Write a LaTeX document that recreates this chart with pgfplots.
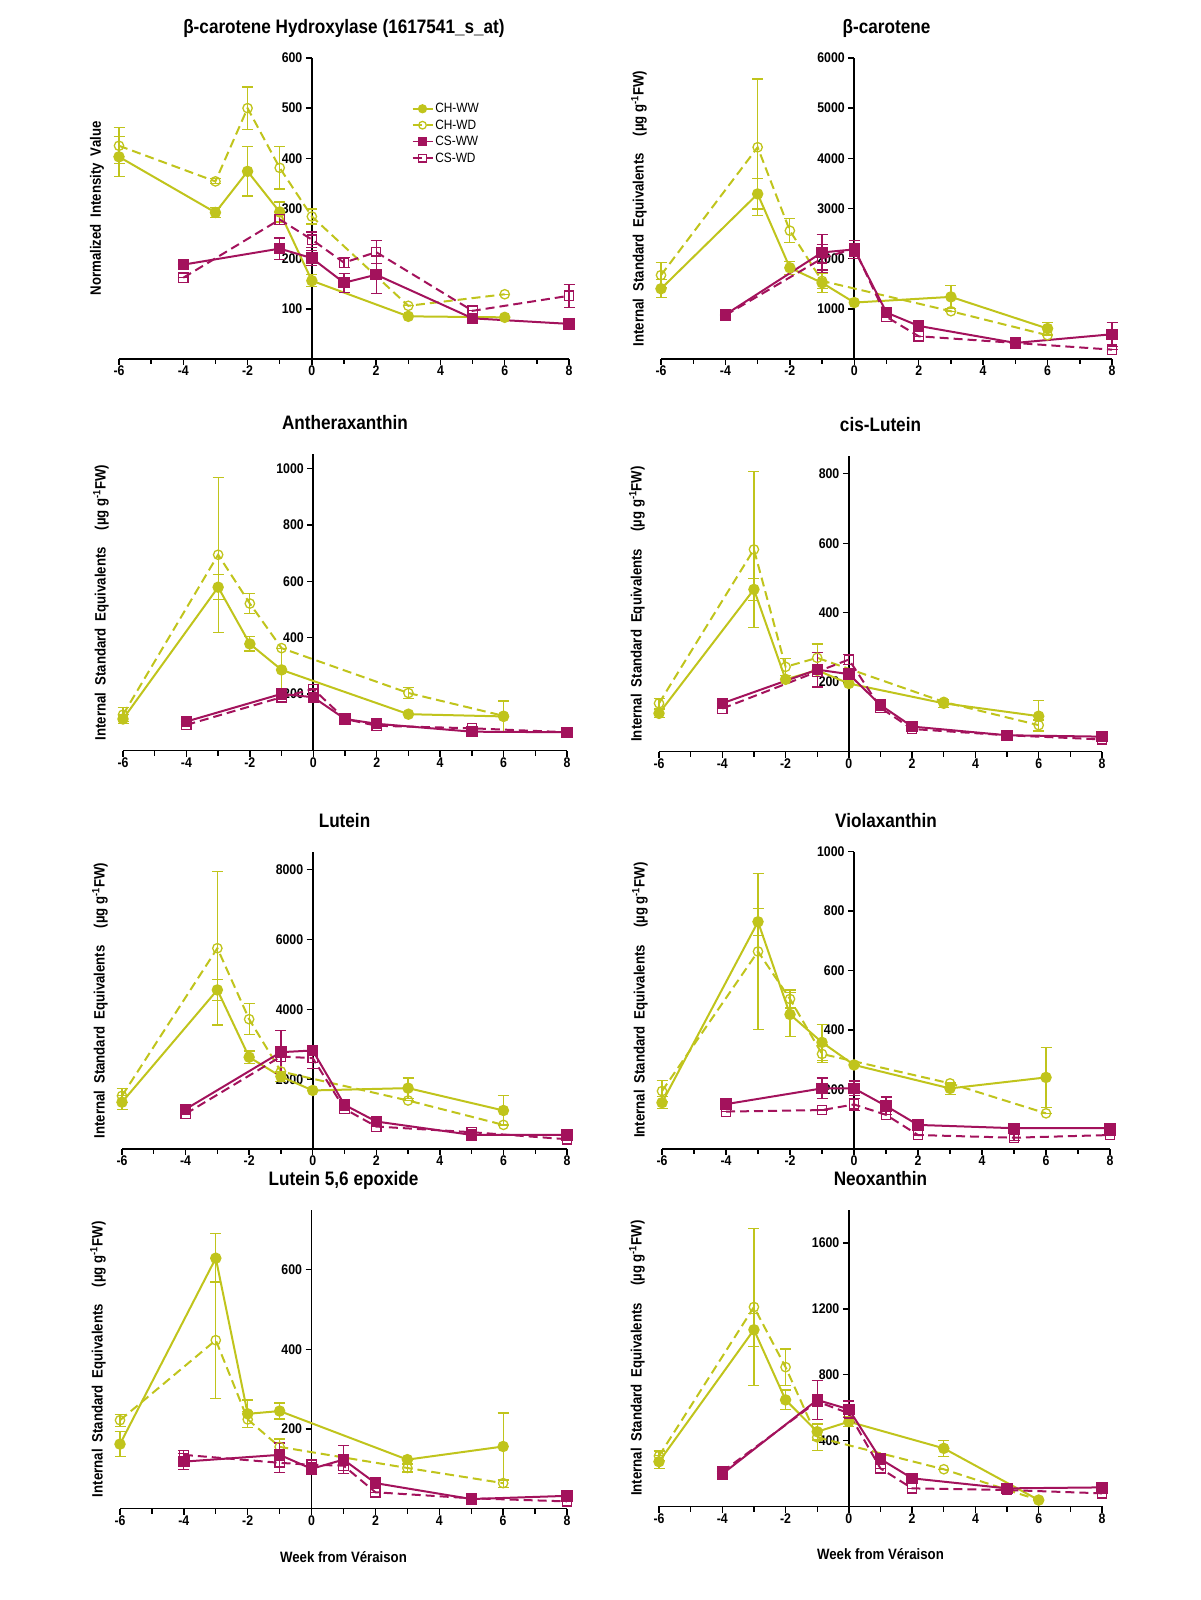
\documentclass[border=0pt]{standalone}
\usepackage{pgfplots}
\pgfplotsset{compat=1.18}
\usepackage{fontspec}
\setmainfont{Liberation Sans}[FakeStretch=0.88]
\definecolor{CY}{RGB}{192,196,28}
\definecolor{CM}{RGB}{163,18,92}
\newcommand\tk{\fontsize{14}{16}\selectfont\bfseries}
\newcommand\ttl{\fontsize{19.5}{22}\selectfont\bfseries}
\newcommand\lab{\fontsize{15}{18}\selectfont\bfseries}
\newcommand\ISE{Internal\hspace{7pt}Standard\hspace{7pt}Equivalents\hspace{17pt}(µg g\textsuperscript{-1}FW)}
\pgfplotsset{
  panel/.style={
    scale only axis, anchor=south west, clip=false,
    xmin=-6, xmax=8, ymin=0,
    axis x line=bottom, axis y line=middle,
    axis line style={-, line width=1.8pt, black},
    hide obscured x ticks=false, hide obscured y ticks=false,
    xtick={-6,-4,-2,0,2,4,6,8}, xticklabels={-6,-4,-2,0,2,4,6,8},
    minor xtick={-5,-3,-1,1,3,5,7},
    tick align=outside, major tick length=6pt, minor tick length=5pt,
    every tick/.append style={black, line width=1.4pt},
    tick label style={font=\tk},
    xticklabel style={yshift=2.5pt},
    /pgf/number format/assume math mode=true, /pgf/number format/1000 sep={},
    every axis title/.style={at={(0.5,1)}, anchor=base, yshift=24.5pt, font=\ttl},
    every axis y label/.style={at={(rel axis cs:0,0.5)}, xshift=-22pt, rotate=90, anchor=center, font=\lab},
    every axis x label/.style={at={(rel axis cs:0.5,0)}, yshift=-48pt, anchor=center, font=\lab},
    ylabel={\ISE},
    error bars/y dir=both, error bars/y explicit,
    error bars/error bar style={line width=1.2pt, solid},
    error bars/error mark options={rotate=90, mark size=5.5pt, line width=1.2pt, solid},
  },
  chww/.style={CY, line width=2pt, solid, mark=*, mark size=4.7pt, mark options={solid}},
  chwd/.style={CY, line width=2pt, dash pattern=on 9pt off 5pt, mark=o, mark size=4.7pt, mark options={solid, fill=white, line width=1.3pt}},
  csww/.style={CM, line width=2pt, solid, mark=square*, mark size=4.7pt, mark options={solid}},
  cswd/.style={CM, line width=2pt, dash pattern=on 9pt off 5pt, mark=square, mark size=4.7pt, mark options={solid, fill=white, line width=1.3pt}},
}
\begin{document}
\begin{tikzpicture}
\path[use as bounding box] (0pt,0pt) rectangle (1200pt,1600pt);

% Panel 1
\begin{axis}[panel, at={(119pt,1241pt)}, width=450pt, height=301pt, ymax=600,
  ytick={100,200,300,400,500,600},
  title={β-carotene Hydroxylase (1617541\_s\_at)},
  ylabel={Normalized\hspace{7pt}Intensity\hspace{7pt}Value},
  legend style={at={(axis cs:3.1,514)}, anchor=north west, draw=none, fill=none,
    font=\fontsize{13.5}{15}\selectfont, row sep=1.5pt, inner sep=0pt},
  legend cell align=left,
  legend image code/.code={\draw[mark repeat=2,mark phase=2,#1] plot coordinates {(0pt,0pt) (10pt,0pt) (20pt,0pt)};},
  legend image post style={mark size=3.8pt, line width=1.6pt}]
\addplot[chww] coordinates {(-6,403) +- (0,40) (-3,292) +- (0,10) (-2,374) +- (0,49) (-1,293) +- (0,20) (0,156) +- (0,12) (3,85) +- (0,0) (6,83) +- (0,0)};
\addplot[chwd] coordinates {(-6,425) +- (0,36) (-3,354) +- (0,5) (-2,500) +- (0,42) (-1,381) +- (0,42) (0,284) +- (0,15) (3,106) +- (0,0) (6,129) +- (0,0)};
\addplot[csww] coordinates {(-4,188) +- (0,0) (-1,220) +- (0,21) (0,201) +- (0,15) (1,152) +- (0,19) (2,168) +- (0,38) (5,81) +- (0,0) (8,70) +- (0,0)};
\addplot[cswd] coordinates {(-4,162) +- (0,0) (-1,278) +- (0,10) (0,238) +- (0,15) (1,192) +- (0,10) (2,213) +- (0,23) (5,96) +- (0,0) (8,126) +- (0,23)};
\legend{CH-WW,CH-WD,CS-WW,CS-WD}
\end{axis}

% Panel 2
\begin{axis}[panel, at={(661pt,1241pt)}, width=451pt, height=301pt, ymax=6000,
  ytick={1000,2000,3000,4000,5000,6000},
  title={β-carotene}]
\addplot[chww] coordinates {(-6,1400) +- (0,180) (-3,3290) +- (0,300) (-2,1818) +- (0,130) (-1,1518) +- (0,200) (0,1125) +- (0,0) (3,1238) +- (0,230) (6,606) +- (0,120)};
\addplot[chwd] coordinates {(-6,1671) +- (0,250) (-3,4221) +- (0,1360) (-2,2557) +- (0,240) (-1,1556) +- (0,150) (3,952) +- (0,0) (6,473) +- (0,0)};
\addplot[csww] coordinates {(-4,885) +- (0,0) (-1,2124) +- (0,350) (0,2184) +- (0,180) (1,925) +- (0,80) (2,659) +- (0,100) (5,320) +- (0,0) (8,493) +- (0,240)};
\addplot[cswd] coordinates {(-4,872) +- (0,0) (-1,2004) +- (0,280) (0,2204) +- (0,150) (1,839) +- (0,0) (2,453) +- (0,0) (5,320) +- (0,0) (8,186) +- (0,0)};
\end{axis}

% Panel 3
\begin{axis}[panel, at={(123pt,849.4pt)}, width=444pt, height=296.3pt, ymax=1050,
  ytick={200,400,600,800,1000},
  title={Antheraxanthin}]
\addplot[chww] coordinates {(-6,112) +- (0,15) (-3,579) +- (0,45) (-2,378) +- (0,25) (-1,286) +- (0,75) (3,129) +- (0,0) (6,121) +- (0,55)};
\addplot[chwd] coordinates {(-6,127) +- (0,25) (-3,694) +- (0,275) (-2,521) +- (0,35) (-1,363) +- (0,0) (3,204) +- (0,20) (6,123) +- (0,0)};
\addplot[csww] coordinates {(-4,103) +- (0,0) (-1,201) +- (0,0) (0,189) +- (0,0) (1,112) +- (0,0) (2,95) +- (0,0) (5,67) +- (0,0) (8,65) +- (0,0)};
\addplot[cswd] coordinates {(-4,91) +- (0,0) (-1,189) +- (0,0) (0,218) +- (0,0) (1,112) +- (0,0) (2,88) +- (0,0) (5,79) +- (0,0) (8,65) +- (0,0)};
\end{axis}

% Panel 4
\begin{axis}[panel, at={(659pt,848.4pt)}, width=443pt, height=295.2pt, ymax=850,
  ytick={200,400,600,800},
  title={cis-Lutein}]
\addplot[chww] coordinates {(-6,110) +- (0,12) (-3,467) +- (0,32) (-2,208) +- (0,10) (-1,234) +- (0,0) (0,196) +- (0,0) (3,139) +- (0,12) (6,102) +- (0,45)};
\addplot[chwd] coordinates {(-6,139) +- (0,15) (-3,582) +- (0,225) (-2,244) +- (0,25) (-1,270) +- (0,40) (3,143) +- (0,0) (6,76) +- (0,15)};
\addplot[csww] coordinates {(-4,139) +- (0,0) (-1,236) +- (0,50) (0,223) +- (0,0) (1,134) +- (0,0) (2,72) +- (0,0) (5,47) +- (0,0) (8,43) +- (0,0)};
\addplot[cswd] coordinates {(-4,124) +- (0,0) (-1,230) +- (0,0) (0,265) +- (0,15) (1,126) +- (0,0) (2,65) +- (0,0) (5,47) +- (0,0) (8,35) +- (0,0)};
\end{axis}

% Panel 5
\begin{axis}[panel, at={(122pt,451pt)}, width=445pt, height=296.7pt, ymax=8500,
  ytick={2000,4000,6000,8000},
  title={Lutein}]
\addplot[chww] coordinates {(-6,1341) +- (0,200) (-3,4557) +- (0,300) (-2,2630) +- (0,180) (-1,2076) +- (0,150) (0,1677) +- (0,0) (3,1744) +- (0,290) (6,1103) +- (0,420)};
\addplot[chwd] coordinates {(-6,1523) +- (0,200) (-3,5752) +- (0,2200) (-2,3719) +- (0,450) (-1,2220) +- (0,0) (3,1389) +- (0,0) (6,691) +- (0,0)};
\addplot[csww] coordinates {(-4,1140) +- (0,0) (-1,2774) +- (0,620) (0,2822) +- (0,0) (1,1265) +- (0,0) (2,787) +- (0,0) (5,404) +- (0,0) (8,404) +- (0,0)};
\addplot[cswd] coordinates {(-4,1007) +- (0,0) (-1,2650) +- (0,0) (0,2603) +- (0,300) (1,1150) +- (0,0) (2,643) +- (0,0) (5,481) +- (0,0) (8,280) +- (0,0)};
\end{axis}

% Panel 6
\begin{axis}[panel, at={(662pt,451.3pt)}, width=448pt, height=297pt, ymax=1000,
  ytick={200,400,600,800,1000},
  title={Violaxanthin}]
\addplot[chww] coordinates {(-6,155) +- (0,20) (-3,764) +- (0,45) (-2,452) +- (0,75) (-1,358) +- (0,60) (0,282) +- (0,0) (3,203) +- (0,20) (6,240) +- (0,100)};
\addplot[chwd] coordinates {(-6,194) +- (0,35) (-3,664) +- (0,262) (-2,504) +- (0,30) (-1,319) +- (0,30) (3,220) +- (0,0) (6,119) +- (0,0)};
\addplot[csww] coordinates {(-4,150) +- (0,15) (-1,203) +- (0,35) (0,203) +- (0,25) (1,144) +- (0,30) (2,80) +- (0,0) (5,69) +- (0,0) (8,69) +- (0,0)};
\addplot[cswd] coordinates {(-4,125) +- (0,0) (-1,130) +- (0,0) (0,149) +- (0,20) (1,114) +- (0,0) (2,46) +- (0,0) (5,37) +- (0,10) (8,46) +- (0,0)};
\end{axis}

% Panel 7
\begin{axis}[panel, at={(120pt,91.4pt)}, width=447pt, height=298.6pt, ymax=750,
  ytick={200,400,600},
  title={Lutein 5,6 epoxide},
  xlabel={Week from Véraison}]
\addplot[chww] coordinates {(-6,162) +- (0,31) (-3,629) +- (0,61) (-2,238) +- (0,35) (-1,245) +- (0,20) (3,123) +- (0,0) (6,156) +- (0,84)};
\addplot[chwd] coordinates {(-6,222) +- (0,15) (-3,423) +- (0,147) (-2,224) +- (0,20) (-1,155) +- (0,20) (3,102) +- (0,10) (6,64) +- (0,10)};
\addplot[csww] coordinates {(-4,118) +- (0,20) (-1,135) +- (0,30) (0,100) +- (0,15) (1,123) +- (0,35) (2,64) +- (0,0) (5,24) +- (0,0) (8,32) +- (0,0)};
\addplot[cswd] coordinates {(-4,135) +- (0,10) (-1,115) +- (0,25) (0,110) +- (0,10) (1,108) +- (0,0) (2,41) +- (0,0) (5,26) +- (0,0) (8,18) +- (0,0)};
\end{axis}

% Panel 8
\begin{axis}[panel, at={(659pt,93.5pt)}, width=443pt, height=296.5pt, ymax=1800,
  ytick={400,800,1200,1600},
  title={Neoxanthin},
  xlabel={Week from Véraison}]
\addplot[chww] coordinates {(-6,272) +- (0,40) (-3,1073) +- (0,100) (-2,647) +- (0,60) (-1,454) +- (0,50) (0,515) +- (0,30) (3,353) +- (0,50) (6,39) +- (0,0)};
\addplot[chwd] coordinates {(-6,307) +- (0,30) (-3,1211) +- (0,475) (-2,846) +- (0,110) (-1,420) +- (0,80) (3,226) +- (0,0) (6,39) +- (0,0)};
\addplot[csww] coordinates {(-4,197) +- (0,0) (-1,647) +- (0,118) (0,590) +- (0,50) (1,288) +- (0,0) (2,171) +- (0,0) (5,110) +- (0,0) (8,116) +- (0,0)};
\addplot[cswd] coordinates {(-4,211) +- (0,0) (-1,637) +- (0,0) (0,566) +- (0,0) (1,231) +- (0,0) (2,110) +- (0,0) (5,100) +- (0,0) (8,80) +- (0,0)};
\end{axis}
\end{tikzpicture}
\end{document}
